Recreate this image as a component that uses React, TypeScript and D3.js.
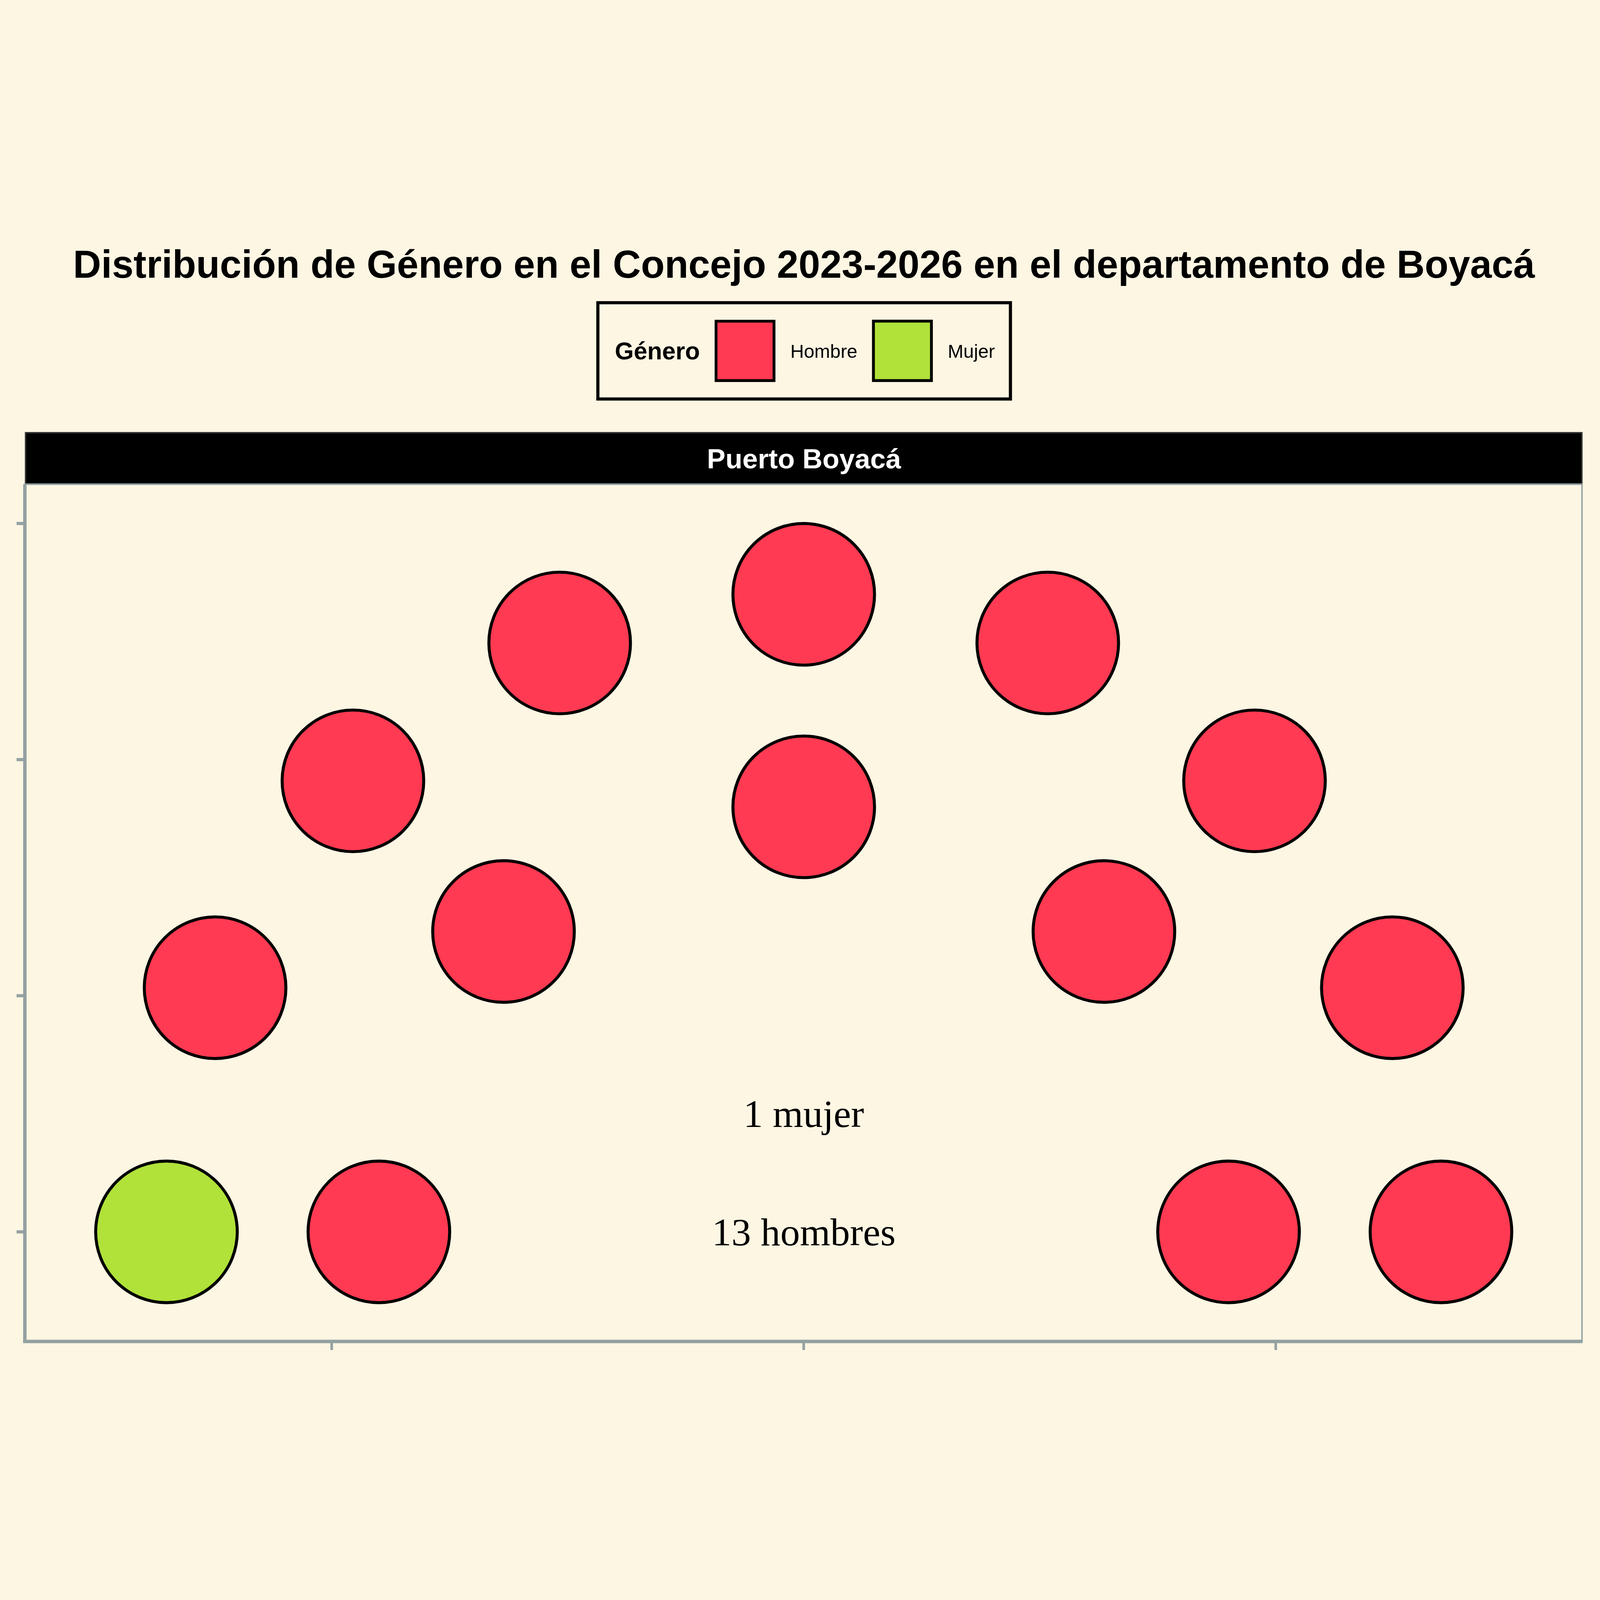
import React from "react";
import * as d3 from "d3";

// seats of the council (parliament layout)
const seatX = [-1.35, -1.247, -0.955, -0.517, 0, 0.517, 0.955, 1.247, 1.35, -0.9, -0.636, 0, 0.636, 0.9];
const seatY = [0, 0.517, 0.955, 1.247, 1.35, 1.247, 0.955, 0.517, 0, 0, 0.636, 0.9, 0.636, 0];
const seatGender = [
  "Mujer", "Hombre", "Hombre", "Hombre", "Hombre", "Hombre", "Hombre", "Hombre", "Hombre",
  "Hombre", "Hombre", "Hombre", "Hombre", "Hombre",
];

const genders = ["Hombre", "Mujer"];
const genderColors = ["#FF3A52", "#B0E23A"];

const xTicks = [-1, 0, 1];
const yTicks = [0, 0.5, 1, 1.5];

const title = "Distribución de Género en el Concejo 2023-2026 en el departamento de Boyacá";
const facetLabel = "Puerto Boyacá";
const notes = [
  { label: "1 mujer", y: 0.25 },
  { label: "13 hombres", y: 0 },
];

const W = 5600;
const H = 5600;
const BG = "#FDF6E3";
const GRID = "#93A1A1";

const panel = { left: 87, right: 5539, top: 1695, bottom: 4695 };

export default function App() {
  const x = d3.scaleLinear().domain([-1.65, 1.65]).range([panel.left, panel.right]);
  const y = d3.scaleLinear().domain([-0.232, 1.583]).range([panel.bottom, panel.top]);
  const color = d3.scaleOrdinal<string, string>().domain(genders).range(genderColors);
  const r = x(0.15) - x(0);

  const sans = "Liberation Sans, Arial, sans-serif";

  return (
    <svg
      viewBox={`0 0 ${W} ${H}`}
      style={{ position: "fixed", left: 0, top: 0, width: "100vw", height: "100vh", display: "block" }}
    >
      <rect x={0} y={0} width={W} height={H} fill={BG} />

      <text x={2814} y={972} textAnchor="middle" fontFamily={sans} fontWeight="bold" fontSize={136}>
        {title}
      </text>

      {/* legend */}
      <g>
        <rect x={2092.5} y={1059.5} width={1444} height={337} fill={BG} stroke="#000" strokeWidth={11} />
        <text x={2152} y={1258} fontFamily={sans} fontWeight="bold" fontSize={85}>
          Género
        </text>
        {genders.map((g, i) => (
          <g key={g} transform={`translate(${2501 + i * 551},1119)`}>
            <rect x={5} y={5} width={203} height={208} fill={color(g)} stroke="#000" strokeWidth={10} />
            <text x={265} y={133} fontFamily={sans} fontSize={66}>
              {g}
            </text>
          </g>
        ))}
      </g>

      {/* facet strip */}
      <rect x={89.5} y={1514.5} width={5447} height={178} fill="#000" stroke="#333333" strokeWidth={5} />
      <text x={2814} y={1639} textAnchor="middle" fill="#fff" fontFamily={sans} fontWeight="bold" fontSize={97}>
        {facetLabel}
      </text>

      {/* panel */}
      <rect
        x={panel.left}
        y={panel.top}
        width={panel.right - panel.left - 2}
        height={panel.bottom - panel.top}
        fill="none"
        stroke={GRID}
        strokeWidth={5}
      />
      <line x1={panel.left} x2={panel.left} y1={panel.top} y2={panel.bottom + 5} stroke={GRID} strokeWidth={12} />
      <line x1={panel.left - 6} x2={panel.right} y1={panel.bottom} y2={panel.bottom} stroke={GRID} strokeWidth={12} />
      {yTicks.map((t) => (
        <line key={t} x1={panel.left - 29} x2={panel.left} y1={y(t)} y2={y(t)} stroke={GRID} strokeWidth={11} />
      ))}
      {xTicks.map((t) => (
        <line key={t} x1={x(t)} x2={x(t)} y1={panel.bottom} y2={panel.bottom + 30} stroke={GRID} strokeWidth={9} />
      ))}

      {seatX.map((sx, i) => (
        <circle
          key={i}
          cx={x(sx)}
          cy={y(seatY[i])}
          r={r}
          fill={color(seatGender[i])}
          stroke="#000"
          strokeWidth={10.5}
        />
      ))}

      {notes.map((n) => (
        <text
          key={n.label}
          x={x(0)}
          y={y(n.y)}
          dy="0.34em"
          textAnchor="middle"
          fontFamily="Liberation Serif, Times New Roman, serif"
          fontSize={137}
        >
          {n.label}
        </text>
      ))}
    </svg>
  );
}
